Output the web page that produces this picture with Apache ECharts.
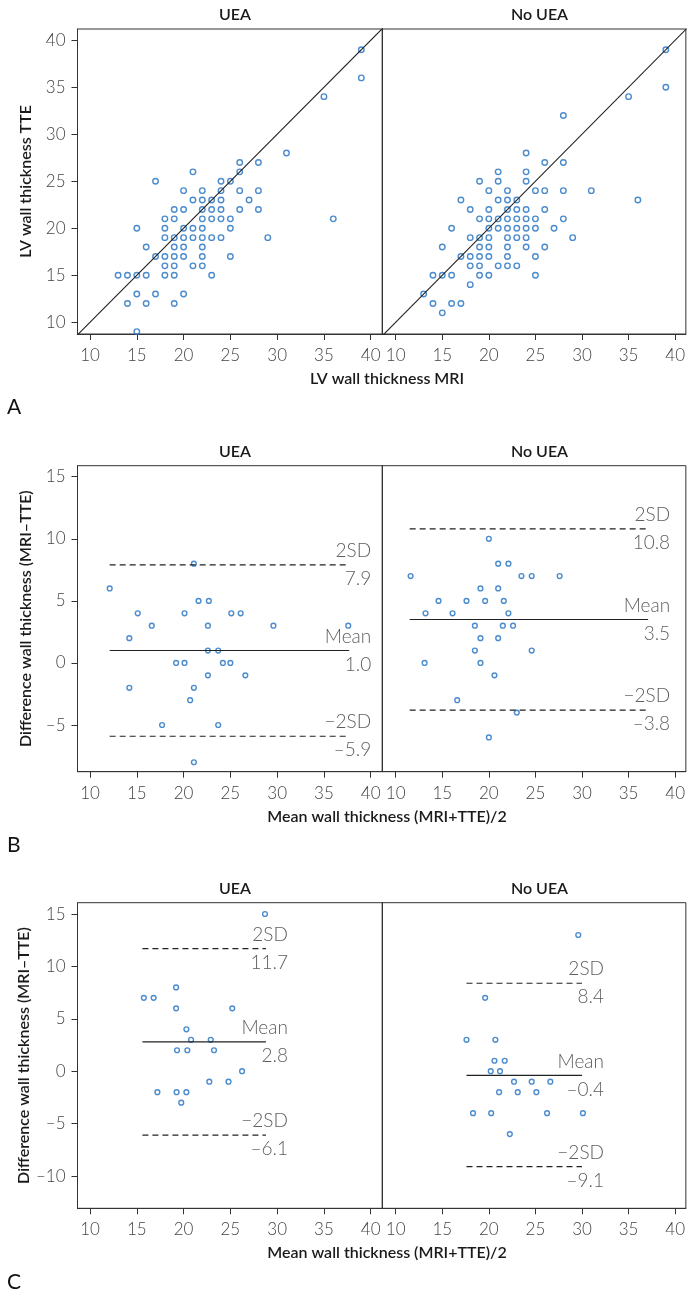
<!DOCTYPE html>
<html><head><meta charset="utf-8">
<script src="https://cdn.jsdelivr.net/npm/echarts@6/dist/echarts.min.js"></script>
<style>html,body{margin:0;padding:0;background:#fff}#chart{width:688px;height:1300px}</style>
</head><body><div id="chart"></div>
<script>
// ---------- data ----------
const panelTitles = ['UEA', 'No UEA'];
const panelLetters = ['A', 'B', 'C'];
const xTicks = [10, 15, 20, 25, 30, 35, 40];
const yTicksA = [10, 15, 20, 25, 30, 35, 40];
const yTicksB = [-5, 0, 5, 10, 15];
const yTicksC = [-10, -5, 0, 5, 10, 15];
const identityLine = [[5, 5], [45, 45]];

const aUEA = [[39,39],[39,36],[35,34],[31,28],[36,21],[29,19],[26,27],[28,27],[26,26],[21,26],[17,25],[24,25],[25,25],[20,24],[22,24],[24,24],[26,24],[28,24],[21,23],[22,23],[23,23],[24,23],[27,23],[19,22],[20,22],[22,22],[23,22],[24,22],[26,22],[28,22],[18,21],[19,21],[22,21],[23,21],[24,21],[25,21],[15,20],[18,20],[20,20],[21,20],[22,20],[25,20],[18,19],[19,19],[20,19],[21,19],[22,19],[23,19],[24,19],[16,18],[19,18],[20,18],[22,18],[17,17],[18,17],[19,17],[20,17],[22,17],[25,17],[18,16],[19,16],[21,16],[22,16],[13,15],[14,15],[15,15],[16,15],[18,15],[19,15],[23,15],[15,13],[17,13],[20,13],[14,12],[16,12],[19,12],[15,9]];
const aNoUEA = [[39,39],[39,35],[35,34],[28,32],[24,28],[26,27],[28,27],[21,26],[24,26],[19,25],[21,25],[24,25],[20,24],[22,24],[25,24],[26,24],[28,24],[31,24],[17,23],[21,23],[22,23],[23,23],[36,23],[18,22],[20,22],[22,22],[23,22],[24,22],[26,22],[19,21],[20,21],[21,21],[22,21],[23,21],[24,21],[25,21],[28,21],[16,20],[20,20],[21,20],[22,20],[23,20],[24,20],[25,20],[27,20],[18,19],[19,19],[20,19],[22,19],[23,19],[24,19],[29,19],[15,18],[19,18],[20,18],[22,18],[24,18],[26,18],[17,17],[18,17],[19,17],[20,17],[22,17],[25,17],[18,16],[19,16],[21,16],[22,16],[23,16],[14,15],[15,15],[16,15],[19,15],[20,15],[25,15],[18,14],[13,13],[14,12],[16,12],[17,12],[15,11]];
const bUEA = [[21.1,8],[12.1,6],[21.6,5],[22.7,5],[15.1,4],[20.1,4],[25.1,4],[26.1,4],[16.6,3],[22.6,3],[29.6,3],[37.6,3],[14.2,2],[22.6,1],[23.7,1],[19.2,0],[20.1,0],[24.2,0],[25.0,0],[22.6,-1],[26.6,-1],[14.2,-2],[21.1,-2],[20.7,-3],[17.7,-5],[23.7,-5],[21.1,-8]];
const bNoUEA = [[20,10],[21,8],[22.1,8],[11.6,7],[23.5,7],[24.6,7],[27.6,7],[19.1,6],[21,6],[14.6,5],[17.6,5],[19.6,5],[21.6,5],[13.2,4],[16.1,4],[22.1,4],[18.5,3],[21.5,3],[22.6,3],[19.1,2],[21,2],[18.5,1],[24.6,1],[13.1,0],[19.1,0],[20.6,-1],[16.6,-3],[23,-4],[20,-6]];
const cUEA = [[28.7,15],[19.2,8],[15.75,7],[16.8,7],[19.2,6],[25.2,6],[20.3,4],[20.8,3],[22.9,3],[19.3,2],[20.4,2],[23.25,2],[26.25,0],[22.75,-1],[24.8,-1],[17.2,-2],[19.25,-2],[20.3,-2],[19.75,-3]];
const cNoUEA = [[29.6,13],[19.6,7],[17.6,3],[20.7,3],[20.6,1],[21.7,1],[20.2,0],[21.2,0],[22.7,-1],[24.6,-1],[26.6,-1],[21.1,-2],[23.1,-2],[25.1,-2],[18.3,-4],[20.25,-4],[26.25,-4],[30.1,-4],[22.25,-6]];

const limitNames = ['2SD', 'Mean', '\u22122SD'];
const bUEALimits = [7.9, 1.0, -5.9];
const bNoUEALimits = [10.8, 3.5, -3.8];
const cUEALimits = [11.7, 2.8, -6.1];
const cNoUEALimits = [8.4, -0.4, -9.1];
const bUEASpan = [12.1, 37.7];
const bNoUEASpan = [11.5, 37.1];
const cUEASpan = [15.6, 28.8];
const cNoUEASpan = [17.6, 30.0];

const xAxisNames = ['LV wall thickness MRI', 'Mean wall thickness (MRI+TTE)/2', 'Mean wall thickness (MRI+TTE)/2'];
const yAxisNames = ['LV wall thickness TTE', 'Difference wall thickness (MRI\u2013TTE)', 'Difference wall thickness (MRI\u2013TTE)'];

// ---------- layout ----------
const FONT = 'Lato, "Open Sans", sans-serif';
const BLUE = '#1f6fc0';
const rows = [
  {top: 29, height: 305, ymin: 8.75, ymax: 41.2, ticks: yTicksA},
  {top: 465.7, height: 306, ymin: -8.76, ymax: 15.89, ticks: yTicksB},
  {top: 902.7, height: 305.6, ymin: -13.08, ymax: 16.08, ticks: yTicksC}
];
const cols = [
  {left: 77.5, width: 304.8, xmin: 8.66, xmax: 41.24},
  {left: 382.3, width: 304.4, xmin: 8.56, xmax: 41.15}
];
const fmt = v => String(v).replace('-', '\u2013');
const fmtNum = v => (v < 0 ? '\u2013' : '') + Math.abs(v).toFixed(1);
const nameStyle = {fontSize: 16, fontWeight: 600, color: '#1a1a1a', fontFamily: FONT};

const grid = [], xAxis = [], yAxis = [], series = [], title = [];
rows.forEach((r, ri) => {
  cols.forEach((c, ci) => {
    const gi = ri * 2 + ci;
    grid.push({left: c.left, top: r.top, width: c.width, height: r.height,
      show: true, borderColor: '#333', borderWidth: 1, backgroundColor: 'transparent'});
    xAxis.push({type: 'value', gridIndex: gi, min: c.xmin, max: c.xmax,
      axisLine: {show: true, onZero: false, lineStyle: {color: '#333', width: 1}},
      axisTick: {show: true, length: 6, customValues: xTicks, lineStyle: {color: '#333'}},
      axisLabel: {show: true, customValues: xTicks, margin: 13, fontSize: 17, fontWeight: 300, color: '#444', fontFamily: FONT},
      splitLine: {show: false}});
    yAxis.push({type: 'value', gridIndex: gi, min: r.ymin, max: r.ymax,
      axisLine: {show: true, onZero: false, lineStyle: {color: '#333', width: 1}},
      axisTick: {show: ci === 0, length: 6, customValues: r.ticks, lineStyle: {color: '#333'}},
      axisLabel: {show: ci === 0, customValues: r.ticks, margin: 12, fontSize: 17, fontWeight: 300, color: '#444', fontFamily: FONT, formatter: fmt},
      splitLine: {show: false},
      name: ci === 0 ? yAxisNames[ri] : '', nameLocation: 'middle', nameGap: 44, nameRotate: 90,
      nameTextStyle: nameStyle});
    title.push({text: panelTitles[ci], left: c.left + c.width / 2, top: r.top - 27, textAlign: 'center',
      textStyle: nameStyle});
  });
  title.push({text: xAxisNames[ri], left: 382, top: r.top + r.height + 32, textAlign: 'center',
    textStyle: nameStyle});
  title.push({text: panelLetters[ri], left: 2, top: r.top + r.height + 58,
    textStyle: {fontSize: 21, fontWeight: 400, color: '#111', fontFamily: FONT}});
});

const scatterStyle = (size) => ({symbol: 'circle', symbolSize: size,
  itemStyle: {color: 'rgba(255,255,255,0)', borderColor: BLUE, borderWidth: 1.4}});

function addScatter(gi, data, size) {
  series.push(Object.assign({type: 'scatter', xAxisIndex: gi, yAxisIndex: gi, data: data, silent: true}, scatterStyle(size)));
}
function addLimits(gi, limits, span) {
  limits.forEach((v, i) => {
    series.push({type: 'line', xAxisIndex: gi, yAxisIndex: gi, symbol: 'none', silent: true,
      data: [[span[0], v], [span[1], v]],
      lineStyle: {color: '#222', width: 1.1, type: i === 1 ? 'solid' : [6, 4]}});
  });
  series.push({type: 'scatter', xAxisIndex: gi, yAxisIndex: gi, symbolSize: 0, silent: true,
    data: limits.map((v, i) => ({value: [span[1], v], name: limitNames[i], txt: fmtNum(v)})),
    label: {show: true, position: [22, 0], align: 'right', verticalAlign: 'middle', lineHeight: 28,
      fontSize: 19, fontWeight: 300, color: '#333', fontFamily: FONT,
      formatter: p => p.data.name + '\n' + p.data.txt}});
}

// Panel A
[0, 1].forEach(gi => {
  series.push({type: 'line', xAxisIndex: gi, yAxisIndex: gi, symbol: 'none', silent: true, clip: true,
    data: identityLine, lineStyle: {color: '#222', width: 1.1}});
});
addScatter(0, aUEA, 5.5);
addScatter(1, aNoUEA, 5.5);
// Panel B
addLimits(2, bUEALimits, bUEASpan);
addLimits(3, bNoUEALimits, bNoUEASpan);
addScatter(2, bUEA, 4.8);
addScatter(3, bNoUEA, 4.8);
// Panel C
addLimits(4, cUEALimits, cUEASpan);
addLimits(5, cNoUEALimits, cNoUEASpan);
addScatter(4, cUEA, 4.8);
addScatter(5, cNoUEA, 4.8);

const chart = echarts.init(document.getElementById('chart'), null, {renderer: 'canvas'});
chart.setOption({animation: false, backgroundColor: '#fff', title, grid, xAxis, yAxis, series});
</script></body></html>
